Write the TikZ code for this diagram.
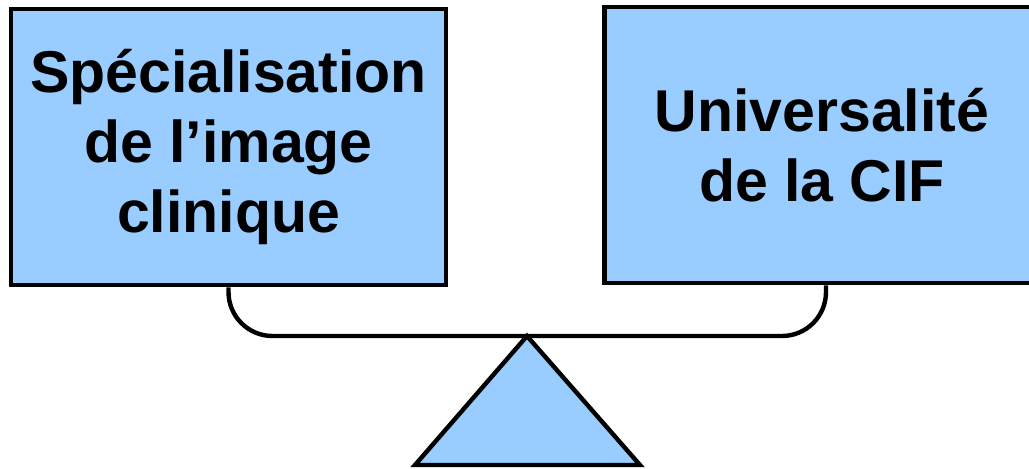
\documentclass[tikz,border=0pt]{standalone}
\usepackage{fontspec}
\setmainfont{Liberation Sans}
\usepackage{tikz}
\definecolor{panblue}{HTML}{99CCFF}

\begin{document}
\begin{tikzpicture}[x=0.5pt, y=-0.5pt]
            \useasboundingbox (0,0) rectangle (1029,468);
            \tikzset{pan/.style={rectangle, draw, line width=2.3pt, fill=panblue, minimum width=217.5pt, minimum height=138pt, align=center, font=\bfseries\fontsize{29.5}{35}\selectfont}}

            % Nodes
            \node[pan] (spec) at (228.5, 147) {Spécialisation\\de l’image\\clinique};
            \node[pan] (univ) at (822, 145) {Universalité\\de la CIF};

            % Pivot
            \coordinate (pivot) at (527, 336);
            \coordinate (baseL) at (415, 465);
            \coordinate (baseR) at (640, 465);
            \coordinate (hook) at ([xshift=2pt]univ.south);
            \draw[line width=2.2pt, fill=panblue, line join=miter] (pivot) -- (baseL) -- (baseR) -- cycle;

            % Beam
            \draw[line width=2.2pt, rounded corners=22pt] (spec.south) |- (pivot) -| (hook);
            \end{tikzpicture}
\end{document}
